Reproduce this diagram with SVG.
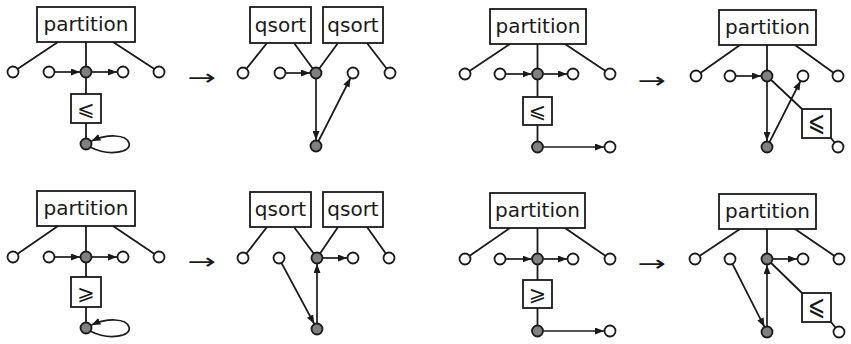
<svg xmlns="http://www.w3.org/2000/svg" width="851" height="344" viewBox="0 0 851 344">
  <defs>
    <marker id="arr" viewBox="0 0 9 7" markerWidth="9" markerHeight="7" refX="9" refY="3.5" orient="auto" markerUnits="userSpaceOnUse">
      <path d="M0,0 L9,3.5 L0,7 z" fill="#1a1a1a"/>
    </marker>
    <style>
      .box { fill: #fff; stroke: #1a1a1a; stroke-width: 1.8; }
      .lbl { font-family: "DejaVu Sans", sans-serif; font-size: 20px; fill: #1a1a1a; text-anchor: middle; }
      .rel { font-family: "DejaVu Sans", sans-serif; font-size: 21px; fill: #1a1a1a; text-anchor: middle; }
      .step { font-family: "DejaVu Sans", sans-serif; font-size: 22px; fill: #1a1a1a; text-anchor: middle; }
      .port { fill: #fff; stroke: #1a1a1a; stroke-width: 1.8; }
      .hub { fill: #808080; stroke: #1a1a1a; stroke-width: 1.8; }
      .edge { fill: none; stroke: #1a1a1a; stroke-width: 1.8; }
      .dir { fill: none; stroke: #1a1a1a; stroke-width: 1.7; marker-end: url(#arr); }
    </style>
  </defs>
  <rect width="851" height="344" fill="#fff"/>

  <!-- connectors -->
  <g id="connectors">
    <!-- top left: partition with ≤ and self loop -->
    <line class="edge" x1="58" y1="42" x2="13" y2="72"/>
    <line class="edge" x1="113" y1="42" x2="159" y2="72"/>
    <line class="edge" x1="86" y1="42" x2="86" y2="144"/>
    <line class="dir" x1="55" y1="72" x2="80" y2="72"/>
    <line class="dir" x1="92" y1="72" x2="117" y2="72"/>
    <path class="dir" d="M91,147.5 C108,156 132,153 129,143 C126,134 107,134 91.5,141"/>

    <!-- top second: qsort pair -->
    <line class="edge" x1="267" y1="43" x2="243" y2="73"/>
    <line class="edge" x1="294" y1="43" x2="316" y2="73"/>
    <line class="edge" x1="338" y1="43" x2="316" y2="73"/>
    <line class="edge" x1="367" y1="43" x2="390" y2="73"/>
    <line class="dir" x1="286" y1="73" x2="310" y2="73"/>
    <line class="dir" x1="316" y1="79" x2="316" y2="140"/>
    <line class="dir" x1="318.3" y1="141.5" x2="350.5" y2="78"/>

    <!-- top third: partition with ≤ and outgoing edge -->
    <line class="edge" x1="510" y1="44" x2="465" y2="74"/>
    <line class="edge" x1="565" y1="44" x2="610" y2="74"/>
    <line class="edge" x1="537.5" y1="44" x2="537.5" y2="147"/>
    <line class="dir" x1="506" y1="74" x2="531.5" y2="74"/>
    <line class="dir" x1="543.5" y1="74" x2="567" y2="74"/>
    <line class="dir" x1="543.5" y1="147" x2="604" y2="147"/>

    <!-- top right -->
    <line class="edge" x1="740" y1="45" x2="696" y2="76"/>
    <line class="edge" x1="795" y1="45" x2="838" y2="76"/>
    <line class="edge" x1="767" y1="45" x2="767" y2="76"/>
    <line class="dir" x1="736" y1="76" x2="761" y2="76"/>
    <line class="dir" x1="767" y1="82" x2="767" y2="141"/>
    <line class="dir" x1="769.3" y1="142.5" x2="800.5" y2="81"/>
    <line class="edge" x1="767" y1="76" x2="802" y2="109"/>
    <line class="edge" x1="831" y1="138" x2="838" y2="147"/>

    <!-- bottom left: partition with ≥ and self loop -->
    <line class="edge" x1="58" y1="226" x2="13" y2="257"/>
    <line class="edge" x1="113" y1="226" x2="159" y2="257"/>
    <line class="edge" x1="86" y1="226" x2="86" y2="328"/>
    <line class="dir" x1="55" y1="257" x2="80" y2="257"/>
    <line class="dir" x1="92" y1="257" x2="117" y2="257"/>
    <path class="dir" d="M91,331.5 C108,340 132,337 129,327 C126,318 107,318 91.5,325"/>

    <!-- bottom second: qsort pair -->
    <line class="edge" x1="267" y1="227" x2="243" y2="258"/>
    <line class="edge" x1="294" y1="227" x2="317" y2="258"/>
    <line class="edge" x1="338" y1="227" x2="317" y2="258"/>
    <line class="edge" x1="367" y1="227" x2="389" y2="258"/>
    <line class="dir" x1="323" y1="258" x2="347" y2="258"/>
    <line class="dir" x1="317" y1="323" x2="317" y2="264"/>
    <line class="dir" x1="281.5" y1="263" x2="314.3" y2="324"/>

    <!-- bottom third: partition with ≥ and outgoing edge -->
    <line class="edge" x1="510" y1="228" x2="465" y2="259"/>
    <line class="edge" x1="565" y1="228" x2="610" y2="259"/>
    <line class="edge" x1="537.5" y1="228" x2="537.5" y2="331"/>
    <line class="dir" x1="506" y1="259" x2="531.5" y2="259"/>
    <line class="dir" x1="543.5" y1="259" x2="567" y2="259"/>
    <line class="dir" x1="543.5" y1="331" x2="604" y2="331"/>

    <!-- bottom right -->
    <line class="edge" x1="740" y1="229" x2="695" y2="259"/>
    <line class="edge" x1="795" y1="229" x2="839" y2="259"/>
    <line class="edge" x1="767" y1="229" x2="767" y2="259"/>
    <line class="dir" x1="773" y1="259" x2="797" y2="259"/>
    <line class="dir" x1="767" y1="326" x2="767" y2="265"/>
    <line class="dir" x1="732.5" y1="264" x2="764.5" y2="327"/>
    <line class="edge" x1="767" y1="259" x2="802" y2="293"/>
    <line class="edge" x1="831" y1="322" x2="839" y2="332"/>
  </g>

  <!-- rewrite steps -->
  <text class="step" transform="translate(202 85) scale(1.55 1)">→</text>
  <text class="step" transform="translate(652 88) scale(1.55 1)">→</text>
  <text class="step" transform="translate(202 269) scale(1.55 1)">→</text>
  <text class="step" transform="translate(652 271) scale(1.55 1)">→</text>

  <!-- ===== top left ===== -->
  <g id="tl-partition"><rect class="box" x="37" y="7" width="98" height="35"/><text class="lbl" x="86" y="31">partition</text></g>
  <g id="tl-p1"><circle class="port" cx="13" cy="72" r="5.5"/></g>
  <g id="tl-p2"><circle class="port" cx="49" cy="72" r="5.5"/></g>
  <g id="tl-hub"><circle class="hub" cx="86" cy="72" r="5.5"/></g>
  <g id="tl-p3"><circle class="port" cx="123" cy="72" r="5.5"/></g>
  <g id="tl-p4"><circle class="port" cx="159" cy="72" r="5.5"/></g>
  <g id="tl-leq"><rect class="box" x="71" y="94" width="30" height="29"/><text class="rel" x="86" y="116">⩽</text></g>
  <g id="tl-low"><circle class="hub" cx="86" cy="144" r="5.5"/></g>

  <!-- ===== top second ===== -->
  <g id="t2-qsort1"><rect class="box" x="250" y="7" width="61" height="36"/><text class="lbl" x="280.5" y="32">qsort</text></g>
  <g id="t2-qsort2"><rect class="box" x="323" y="7" width="60" height="36"/><text class="lbl" x="353" y="32">qsort</text></g>
  <g id="t2-p1"><circle class="port" cx="243" cy="73" r="5.5"/></g>
  <g id="t2-p2"><circle class="port" cx="280" cy="73" r="5.5"/></g>
  <g id="t2-hub"><circle class="hub" cx="316" cy="73" r="5.5"/></g>
  <g id="t2-p3"><circle class="port" cx="353" cy="73" r="5.5"/></g>
  <g id="t2-p4"><circle class="port" cx="390" cy="73" r="5.5"/></g>
  <g id="t2-low"><circle class="hub" cx="316" cy="146" r="5.5"/></g>

  <!-- ===== top third ===== -->
  <g id="t3-partition"><rect class="box" x="490" y="9" width="96" height="35"/><text class="lbl" x="538" y="33">partition</text></g>
  <g id="t3-p1"><circle class="port" cx="465" cy="74" r="5.5"/></g>
  <g id="t3-p2"><circle class="port" cx="500" cy="74" r="5.5"/></g>
  <g id="t3-hub"><circle class="hub" cx="537.5" cy="74" r="5.5"/></g>
  <g id="t3-p3"><circle class="port" cx="573" cy="74" r="5.5"/></g>
  <g id="t3-p4"><circle class="port" cx="610" cy="74" r="5.5"/></g>
  <g id="t3-leq"><rect class="box" x="523" y="97" width="29" height="28"/><text class="rel" x="537.5" y="118">⩽</text></g>
  <g id="t3-low"><circle class="hub" cx="537.5" cy="147" r="5.5"/></g>
  <g id="t3-out"><circle class="port" cx="610" cy="147" r="5.5"/></g>

  <!-- ===== top right ===== -->
  <g id="tr-partition"><rect class="box" x="719" y="10" width="97" height="35"/><text class="lbl" x="767.5" y="34">partition</text></g>
  <g id="tr-p1"><circle class="port" cx="696" cy="76" r="5.5"/></g>
  <g id="tr-p2"><circle class="port" cx="730" cy="76" r="5.5"/></g>
  <g id="tr-hub"><circle class="hub" cx="767" cy="76" r="5.5"/></g>
  <g id="tr-p3"><circle class="port" cx="803" cy="76" r="5.5"/></g>
  <g id="tr-p4"><circle class="port" cx="838" cy="76" r="5.5"/></g>
  <g id="tr-leq"><rect class="box" x="802" y="109" width="29" height="29"/><text class="rel" transform="translate(816.5 131) scale(1 1.35)" x="0" y="0">⩽</text></g>
  <g id="tr-low"><circle class="hub" cx="767" cy="147" r="5.5"/></g>
  <g id="tr-out"><circle class="port" cx="838" cy="147" r="5.5"/></g>

  <!-- ===== bottom left ===== -->
  <g id="bl-partition"><rect class="box" x="37" y="191" width="98" height="35"/><text class="lbl" x="86" y="215">partition</text></g>
  <g id="bl-p1"><circle class="port" cx="13" cy="257" r="5.5"/></g>
  <g id="bl-p2"><circle class="port" cx="49" cy="257" r="5.5"/></g>
  <g id="bl-hub"><circle class="hub" cx="86" cy="257" r="5.5"/></g>
  <g id="bl-p3"><circle class="port" cx="123" cy="257" r="5.5"/></g>
  <g id="bl-p4"><circle class="port" cx="159" cy="257" r="5.5"/></g>
  <g id="bl-geq"><rect class="box" x="71" y="277" width="30" height="30"/><text class="rel" x="86" y="300">⩾</text></g>
  <g id="bl-low"><circle class="hub" cx="86" cy="328" r="5.5"/></g>

  <!-- ===== bottom second ===== -->
  <g id="b2-qsort1"><rect class="box" x="250" y="192" width="61" height="35"/><text class="lbl" x="280.5" y="216">qsort</text></g>
  <g id="b2-qsort2"><rect class="box" x="323" y="192" width="60" height="35"/><text class="lbl" x="353" y="216">qsort</text></g>
  <g id="b2-p1"><circle class="port" cx="243" cy="258" r="5.5"/></g>
  <g id="b2-p2"><circle class="port" cx="279" cy="258" r="5.5"/></g>
  <g id="b2-hub"><circle class="hub" cx="317" cy="258" r="5.5"/></g>
  <g id="b2-p3"><circle class="port" cx="353" cy="258" r="5.5"/></g>
  <g id="b2-p4"><circle class="port" cx="389" cy="258" r="5.5"/></g>
  <g id="b2-low"><circle class="hub" cx="317" cy="329" r="5.5"/></g>

  <!-- ===== bottom third ===== -->
  <g id="b3-partition"><rect class="box" x="490" y="193" width="95" height="35"/><text class="lbl" x="537.5" y="217">partition</text></g>
  <g id="b3-p1"><circle class="port" cx="465" cy="259" r="5.5"/></g>
  <g id="b3-p2"><circle class="port" cx="500" cy="259" r="5.5"/></g>
  <g id="b3-hub"><circle class="hub" cx="537.5" cy="259" r="5.5"/></g>
  <g id="b3-p3"><circle class="port" cx="573" cy="259" r="5.5"/></g>
  <g id="b3-p4"><circle class="port" cx="610" cy="259" r="5.5"/></g>
  <g id="b3-geq"><rect class="box" x="523" y="280" width="29" height="28"/><text class="rel" x="537.5" y="301">⩾</text></g>
  <g id="b3-low"><circle class="hub" cx="537.5" cy="331" r="5.5"/></g>
  <g id="b3-out"><circle class="port" cx="610" cy="331" r="5.5"/></g>

  <!-- ===== bottom right ===== -->
  <g id="br-partition"><rect class="box" x="719" y="194" width="97" height="35"/><text class="lbl" x="767.5" y="218">partition</text></g>
  <g id="br-p1"><circle class="port" cx="695" cy="259" r="5.5"/></g>
  <g id="br-p2"><circle class="port" cx="730" cy="259" r="5.5"/></g>
  <g id="br-hub"><circle class="hub" cx="767" cy="259" r="5.5"/></g>
  <g id="br-p3"><circle class="port" cx="803" cy="259" r="5.5"/></g>
  <g id="br-p4"><circle class="port" cx="839" cy="259" r="5.5"/></g>
  <g id="br-leq"><rect class="box" x="802" y="293" width="29" height="29"/><text class="rel" transform="translate(816.5 315) scale(1 1.35)" x="0" y="0">⩽</text></g>
  <g id="br-low"><circle class="hub" cx="767" cy="332" r="5.5"/></g>
  <g id="br-out"><circle class="port" cx="839" cy="332" r="5.5"/></g>
</svg>
